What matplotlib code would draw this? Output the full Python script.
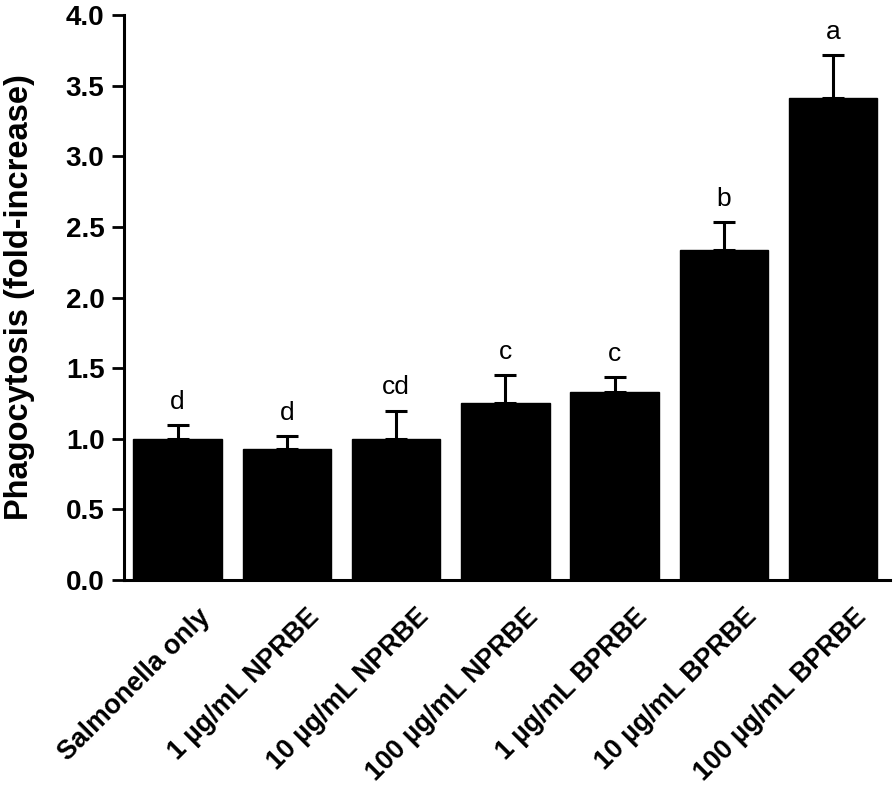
import matplotlib
matplotlib.use("Agg")
import matplotlib.pyplot as plt
import matplotlib.transforms as mtransforms
import numpy as np

categories = ["Salmonella only", "1 \u00b5g/mL NPRBE", "10 \u00b5g/mL NPRBE", "100 \u00b5g/mL NPRBE",
              "1 \u00b5g/mL BPRBE", "10 \u00b5g/mL BPRBE", "100 \u00b5g/mL BPRBE"]
values = [1.00, 0.925, 1.00, 1.255, 1.33, 2.335, 3.415]
errors = [0.10, 0.095, 0.20, 0.195, 0.105, 0.20, 0.30]
letters = ["d", "d", "cd", "c", "c", "b", "a"]

plt.rcParams['font.family'] = ['Liberation Sans', 'DejaVu Sans']

fig = plt.figure(figsize=(8.94, 7.91), dpi=100)
ax = fig.add_axes([124/894, 1-580/791, (890-124)/894, (580-15)/791])

x = np.arange(len(categories))
ax.bar(x, values, width=0.81, color='black', edgecolor='black', linewidth=1, zorder=2)
ax.errorbar(x, values, yerr=[np.zeros(len(values)), errors], fmt='none', ecolor='black',
            elinewidth=2.2, capsize=8, capthick=2.2, zorder=1)

for xi, v, e, l in zip(x, values, errors, letters):
    ax.annotate(l, (xi, v + e), xytext=(0, 8), textcoords='offset points',
                ha='center', va='bottom', fontsize=19)

ax.set_xlim(-0.49, 6.52)
ax.set_ylim(0, 4.0)
ax.set_yticks(np.arange(0, 4.01, 0.5))
ax.set_yticklabels([f"{t:.1f}" for t in np.arange(0, 4.01, 0.5)], fontsize=20, fontweight='bold')
ax.tick_params(axis='y', length=9, width=2, direction='out', pad=5)
ax.tick_params(axis='x', length=0, pad=0)
ax.set_xticks(x)
ax.set_xticklabels(categories, rotation=45, ha='right', va='center', rotation_mode='anchor',
                   fontsize=19.3, fontweight='bold')
offset = mtransforms.ScaledTranslation(0.29, -0.33, fig.dpi_scale_trans)
for lab in ax.get_xticklabels():
    lab.set_transform(lab.get_transform() + offset)

for s in ['top', 'right']:
    ax.spines[s].set_visible(False)
for s in ['left', 'bottom']:
    ax.spines[s].set_linewidth(2.2)

ax.set_ylabel("Phagocytosis (fold-increase)", fontsize=23.5, fontweight='bold')
ax.yaxis.set_label_coords(-(124 - 35)/766, 0.5)

fig.savefig("out.png", dpi=100)
